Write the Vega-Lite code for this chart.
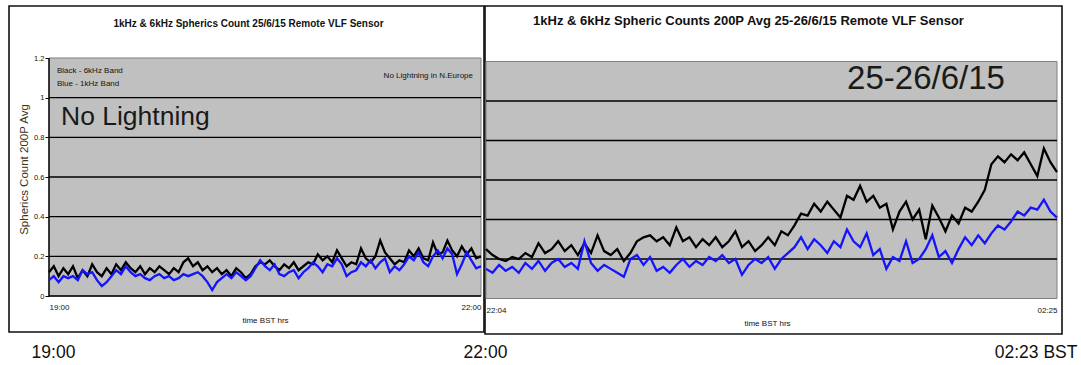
{
  "$schema": "https://vega.github.io/schema/vega-lite/v6.json",
  "padding": {"left": 8, "top": 5, "right": 0, "bottom": 0},
  "background": "white",
  "bounds": "flush",
  "spacing": 1,
  "config": {"font": "Liberation Sans", "text": {"font": "Liberation Sans"}},
  "datasets": {
    "left": [
      {"t":"2015-06-25T19:00","k":0.12,"b":0.08},{"t":"2015-06-25T19:02","k":0.15,"b":0.10},{"t":"2015-06-25T19:04","k":0.10,"b":0.07},{"t":"2015-06-25T19:06","k":0.14,"b":0.10},{"t":"2015-06-25T19:08","k":0.11,"b":0.09},{"t":"2015-06-25T19:10","k":0.15,"b":0.10},{"t":"2015-06-25T19:12","k":0.09,"b":0.08},{"t":"2015-06-25T19:14","k":0.13,"b":0.13},{"t":"2015-06-25T19:16","k":0.10,"b":0.11},{"t":"2015-06-25T19:18","k":0.16,"b":0.12},
      {"t":"2015-06-25T19:20","k":0.12,"b":0.08},{"t":"2015-06-25T19:22","k":0.10,"b":0.05},{"t":"2015-06-25T19:24","k":0.14,"b":0.07},{"t":"2015-06-25T19:26","k":0.11,"b":0.10},{"t":"2015-06-25T19:28","k":0.16,"b":0.13},{"t":"2015-06-25T19:30","k":0.13,"b":0.11},{"t":"2015-06-25T19:32","k":0.17,"b":0.15},{"t":"2015-06-25T19:34","k":0.14,"b":0.12},{"t":"2015-06-25T19:36","k":0.12,"b":0.10},{"t":"2015-06-25T19:38","k":0.15,"b":0.11},
      {"t":"2015-06-25T19:40","k":0.11,"b":0.09},{"t":"2015-06-25T19:42","k":0.14,"b":0.08},{"t":"2015-06-25T19:44","k":0.12,"b":0.10},{"t":"2015-06-25T19:46","k":0.15,"b":0.11},{"t":"2015-06-25T19:48","k":0.13,"b":0.09},{"t":"2015-06-25T19:50","k":0.11,"b":0.10},{"t":"2015-06-25T19:52","k":0.14,"b":0.08},{"t":"2015-06-25T19:54","k":0.12,"b":0.09},{"t":"2015-06-25T19:56","k":0.17,"b":0.11},{"t":"2015-06-25T19:58","k":0.19,"b":0.10},
      {"t":"2015-06-25T20:00","k":0.15,"b":0.11},{"t":"2015-06-25T20:02","k":0.17,"b":0.12},{"t":"2015-06-25T20:04","k":0.13,"b":0.10},{"t":"2015-06-25T20:06","k":0.15,"b":0.07},{"t":"2015-06-25T20:08","k":0.12,"b":0.03},{"t":"2015-06-25T20:10","k":0.14,"b":0.07},{"t":"2015-06-25T20:12","k":0.11,"b":0.09},{"t":"2015-06-25T20:14","k":0.13,"b":0.11},{"t":"2015-06-25T20:16","k":0.10,"b":0.09},{"t":"2015-06-25T20:18","k":0.14,"b":0.12},
      {"t":"2015-06-25T20:20","k":0.12,"b":0.10},{"t":"2015-06-25T20:22","k":0.09,"b":0.08},{"t":"2015-06-25T20:24","k":0.11,"b":0.10},{"t":"2015-06-25T20:26","k":0.15,"b":0.14},{"t":"2015-06-25T20:28","k":0.17,"b":0.18},{"t":"2015-06-25T20:30","k":0.16,"b":0.15},{"t":"2015-06-25T20:32","k":0.18,"b":0.13},{"t":"2015-06-25T20:34","k":0.15,"b":0.16},{"t":"2015-06-25T20:36","k":0.13,"b":0.11},{"t":"2015-06-25T20:38","k":0.16,"b":0.10},
      {"t":"2015-06-25T20:40","k":0.14,"b":0.12},{"t":"2015-06-25T20:42","k":0.17,"b":0.13},{"t":"2015-06-25T20:44","k":0.13,"b":0.09},{"t":"2015-06-25T20:46","k":0.15,"b":0.12},{"t":"2015-06-25T20:48","k":0.17,"b":0.14},{"t":"2015-06-25T20:50","k":0.16,"b":0.17},{"t":"2015-06-25T20:52","k":0.21,"b":0.15},{"t":"2015-06-25T20:54","k":0.18,"b":0.12},{"t":"2015-06-25T20:56","k":0.20,"b":0.16},{"t":"2015-06-25T20:58","k":0.17,"b":0.15},
      {"t":"2015-06-25T21:00","k":0.23,"b":0.19},{"t":"2015-06-25T21:02","k":0.19,"b":0.16},{"t":"2015-06-25T21:04","k":0.15,"b":0.10},{"t":"2015-06-25T21:06","k":0.17,"b":0.12},{"t":"2015-06-25T21:08","k":0.16,"b":0.13},{"t":"2015-06-25T21:10","k":0.24,"b":0.17},{"t":"2015-06-25T21:12","k":0.19,"b":0.15},{"t":"2015-06-25T21:14","k":0.17,"b":0.18},{"t":"2015-06-25T21:16","k":0.20,"b":0.14},{"t":"2015-06-25T21:18","k":0.28,"b":0.17},
      {"t":"2015-06-25T21:20","k":0.22,"b":0.19},{"t":"2015-06-25T21:22","k":0.19,"b":0.12},{"t":"2015-06-25T21:24","k":0.16,"b":0.15},{"t":"2015-06-25T21:26","k":0.18,"b":0.13},{"t":"2015-06-25T21:28","k":0.17,"b":0.16},{"t":"2015-06-25T21:30","k":0.23,"b":0.20},{"t":"2015-06-25T21:32","k":0.20,"b":0.18},{"t":"2015-06-25T21:34","k":0.24,"b":0.22},{"t":"2015-06-25T21:36","k":0.19,"b":0.17},{"t":"2015-06-25T21:38","k":0.18,"b":0.15},
      {"t":"2015-06-25T21:40","k":0.27,"b":0.20},{"t":"2015-06-25T21:42","k":0.21,"b":0.23},{"t":"2015-06-25T21:44","k":0.22,"b":0.19},{"t":"2015-06-25T21:46","k":0.28,"b":0.24},{"t":"2015-06-25T21:48","k":0.23,"b":0.21},{"t":"2015-06-25T21:50","k":0.20,"b":0.11},{"t":"2015-06-25T21:52","k":0.25,"b":0.16},{"t":"2015-06-25T21:54","k":0.21,"b":0.22},{"t":"2015-06-25T21:56","k":0.24,"b":0.18},{"t":"2015-06-25T21:58","k":0.19,"b":0.14},
      {"t":"2015-06-25T22:00","k":0.20,"b":0.15}
    ],
    "right": [
      {"t":"2015-06-25T22:04","k":0.25,"b":0.15},{"t":"2015-06-25T22:07","k":0.22,"b":0.13},{"t":"2015-06-25T22:10","k":0.20,"b":0.17},{"t":"2015-06-25T22:13","k":0.19,"b":0.14},{"t":"2015-06-25T22:16","k":0.21,"b":0.16},{"t":"2015-06-25T22:19","k":0.20,"b":0.13},{"t":"2015-06-25T22:22","k":0.23,"b":0.18},{"t":"2015-06-25T22:25","k":0.21,"b":0.15},{"t":"2015-06-25T22:28","k":0.28,"b":0.19},{"t":"2015-06-25T22:31","k":0.23,"b":0.14},
      {"t":"2015-06-25T22:34","k":0.25,"b":0.18},{"t":"2015-06-25T22:37","k":0.29,"b":0.20},{"t":"2015-06-25T22:40","k":0.24,"b":0.16},{"t":"2015-06-25T22:43","k":0.27,"b":0.18},{"t":"2015-06-25T22:46","k":0.22,"b":0.15},{"t":"2015-06-25T22:49","k":0.28,"b":0.29},{"t":"2015-06-25T22:52","k":0.23,"b":0.18},{"t":"2015-06-25T22:55","k":0.32,"b":0.14},{"t":"2015-06-25T22:58","k":0.24,"b":0.17},{"t":"2015-06-25T23:01","k":0.22,"b":0.15},
      {"t":"2015-06-25T23:04","k":0.25,"b":0.13},{"t":"2015-06-25T23:07","k":0.19,"b":0.11},{"t":"2015-06-25T23:10","k":0.23,"b":0.20},{"t":"2015-06-25T23:13","k":0.29,"b":0.22},{"t":"2015-06-25T23:16","k":0.31,"b":0.17},{"t":"2015-06-25T23:19","k":0.32,"b":0.21},{"t":"2015-06-25T23:22","k":0.29,"b":0.14},{"t":"2015-06-25T23:25","k":0.31,"b":0.16},{"t":"2015-06-25T23:28","k":0.27,"b":0.13},{"t":"2015-06-25T23:31","k":0.36,"b":0.17},
      {"t":"2015-06-25T23:34","k":0.29,"b":0.20},{"t":"2015-06-25T23:37","k":0.31,"b":0.16},{"t":"2015-06-25T23:40","k":0.26,"b":0.19},{"t":"2015-06-25T23:43","k":0.30,"b":0.17},{"t":"2015-06-25T23:46","k":0.27,"b":0.21},{"t":"2015-06-25T23:49","k":0.31,"b":0.19},{"t":"2015-06-25T23:52","k":0.26,"b":0.22},{"t":"2015-06-25T23:55","k":0.29,"b":0.18},{"t":"2015-06-25T23:58","k":0.34,"b":0.20},{"t":"2015-06-26T00:01","k":0.26,"b":0.12},
      {"t":"2015-06-26T00:04","k":0.29,"b":0.17},{"t":"2015-06-26T00:07","k":0.24,"b":0.20},{"t":"2015-06-26T00:10","k":0.27,"b":0.18},{"t":"2015-06-26T00:13","k":0.31,"b":0.21},{"t":"2015-06-26T00:16","k":0.27,"b":0.15},{"t":"2015-06-26T00:19","k":0.34,"b":0.20},{"t":"2015-06-26T00:22","k":0.32,"b":0.23},{"t":"2015-06-26T00:25","k":0.37,"b":0.26},{"t":"2015-06-26T00:28","k":0.43,"b":0.31},{"t":"2015-06-26T00:31","k":0.42,"b":0.25},
      {"t":"2015-06-26T00:34","k":0.48,"b":0.30},{"t":"2015-06-26T00:37","k":0.44,"b":0.27},{"t":"2015-06-26T00:40","k":0.49,"b":0.23},{"t":"2015-06-26T00:43","k":0.45,"b":0.29},{"t":"2015-06-26T00:46","k":0.41,"b":0.26},{"t":"2015-06-26T00:49","k":0.52,"b":0.35},{"t":"2015-06-26T00:52","k":0.50,"b":0.29},{"t":"2015-06-26T00:55","k":0.57,"b":0.26},{"t":"2015-06-26T00:58","k":0.49,"b":0.33},{"t":"2015-06-26T01:01","k":0.52,"b":0.22},
      {"t":"2015-06-26T01:04","k":0.46,"b":0.25},{"t":"2015-06-26T01:07","k":0.48,"b":0.15},{"t":"2015-06-26T01:10","k":0.35,"b":0.21},{"t":"2015-06-26T01:13","k":0.44,"b":0.19},{"t":"2015-06-26T01:16","k":0.49,"b":0.29},{"t":"2015-06-26T01:19","k":0.40,"b":0.18},{"t":"2015-06-26T01:22","k":0.45,"b":0.20},{"t":"2015-06-26T01:25","k":0.30,"b":0.25},{"t":"2015-06-26T01:28","k":0.47,"b":0.32},{"t":"2015-06-26T01:31","k":0.41,"b":0.21},
      {"t":"2015-06-26T01:34","k":0.34,"b":0.24},{"t":"2015-06-26T01:37","k":0.42,"b":0.18},{"t":"2015-06-26T01:40","k":0.38,"b":0.25},{"t":"2015-06-26T01:43","k":0.46,"b":0.31},{"t":"2015-06-26T01:46","k":0.44,"b":0.27},{"t":"2015-06-26T01:49","k":0.49,"b":0.32},{"t":"2015-06-26T01:52","k":0.55,"b":0.28},{"t":"2015-06-26T01:55","k":0.68,"b":0.33},{"t":"2015-06-26T01:58","k":0.72,"b":0.37},{"t":"2015-06-26T02:01","k":0.69,"b":0.35},
      {"t":"2015-06-26T02:04","k":0.73,"b":0.39},{"t":"2015-06-26T02:07","k":0.70,"b":0.44},{"t":"2015-06-26T02:10","k":0.74,"b":0.42},{"t":"2015-06-26T02:13","k":0.68,"b":0.46},{"t":"2015-06-26T02:16","k":0.62,"b":0.45},{"t":"2015-06-26T02:19","k":0.76,"b":0.50},{"t":"2015-06-26T02:22","k":0.69,"b":0.44},{"t":"2015-06-26T02:25","k":0.64,"b":0.41}
    ]
  },
  "hconcat": [
    {
      "width": 475,
      "height": 326,
      "view": {"fill": "white", "stroke": "#111", "strokeWidth": 1.6},
      "title": {"text": "1kHz & 6kHz Spherics Count 25/6/15 Remote VLF Sensor", "fontSize": 10, "fontWeight": "bold", "anchor": "middle", "baseline": "alphabetic", "offset": -31, "dx": 2, "color": "#111", "font": "Liberation Sans"},
      "resolve": {"axis": {"x": "independent", "y": "independent"}},
      "layer": [
        {
          "data": {"values": [{}]},
          "mark": {"type": "rect", "fill": "#c0c0c0", "stroke": "#808080", "strokeWidth": 1},
          "encoding": {
            "x": {"datum": {"year":2015,"month":"jun","date":25,"hours":19}, "type": "temporal", "scale": {"domain":[{"year":2015,"month":"jun","date":25,"hours":18,"minutes":43,"seconds":20},{"year":2015,"month":"jun","date":25,"hours":22,"minutes":1,"seconds":15}],"nice":false}, "axis": null},
            "x2": {"datum": {"year":2015,"month":"jun","date":25,"hours":22}},
            "y": {"datum": 0, "type": "quantitative", "scale": {"domain":[-0.1815,1.4622],"nice":false,"zero":false},
                  "axis": {"orient": "left", "offset": -40, "values": [0,0.2,0.4,0.6,0.8,1,1.2], "format": ".1~f", "domain": false, "grid": false, "ticks": true, "tickSize": 4, "tickColor": "#000", "tickWidth": 1, "labelFontSize": 7.5, "labelColor": "#111", "labelPadding": 1, "labelFont": "Liberation Sans", "title": "Spherics Count 200P Avg", "titleFont": "Liberation Sans", "titleFontSize": 11.5, "titleFontWeight": "normal", "titleColor": "#3a3418", "titlePadding": 4}},
            "y2": {"datum": 1.2}
          }
        },
        {
          "data": {"values": [{"g":0},{"g":0.2},{"g":0.4},{"g":0.6},{"g":0.8},{"g":1}]},
          "mark": {"type": "rule", "color": "#000", "strokeWidth": 1.4},
          "encoding": {
            "x": {"datum": {"year":2015,"month":"jun","date":25,"hours":19}, "type": "temporal", "scale": {"domain":[{"year":2015,"month":"jun","date":25,"hours":18,"minutes":43,"seconds":20},{"year":2015,"month":"jun","date":25,"hours":22,"minutes":1,"seconds":15}],"nice":false}, "axis": null},
            "x2": {"datum": {"year":2015,"month":"jun","date":25,"hours":22}},
            "y": {"field": "g", "type": "quantitative", "scale": {"domain":[-0.1815,1.4622],"nice":false,"zero":false}, "axis": null}
          }
        },
        {
          "data": {"values": [{}]},
          "mark": {"type": "rule", "color": "#000", "strokeWidth": 1.4},
          "encoding": {
            "x": {"datum": {"year":2015,"month":"jun","date":25,"hours":19}, "type": "temporal", "scale": {"domain":[{"year":2015,"month":"jun","date":25,"hours":18,"minutes":43,"seconds":20},{"year":2015,"month":"jun","date":25,"hours":22,"minutes":1,"seconds":15}],"nice":false}, "axis": null},
            "y": {"datum": 0, "type": "quantitative", "scale": {"domain":[-0.1815,1.4622],"nice":false,"zero":false}, "axis": null},
            "y2": {"datum": 1.2}
          }
        },
        {
          "data": {"name": "left"},
          "mark": {"type": "line", "color": "#000", "strokeWidth": 2.3},
          "encoding": {
            "x": {"field": "t", "type": "temporal", "scale": {"domain":[{"year":2015,"month":"jun","date":25,"hours":18,"minutes":43,"seconds":20},{"year":2015,"month":"jun","date":25,"hours":22,"minutes":1,"seconds":15}],"nice":false},
                  "axis": {"orient": "bottom", "offset": -36, "values": [{"year":2015,"month":"jun","date":25,"hours":19},{"year":2015,"month":"jun","date":25,"hours":22}], "format": "%H:%M", "labelFlush": 45, "labelFontSize": 8, "labelColor": "#111", "labelPadding": 7, "labelFont": "Liberation Sans", "domain": false, "ticks": false, "tickSize": 0, "grid": false, "title": "time BST hrs", "titleFont": "Liberation Sans", "titleFontSize": 8, "titleFontWeight": "normal", "titleColor": "#111", "titlePadding": 5, "titleX": 256}},
            "y": {"field": "k", "type": "quantitative", "scale": {"domain":[-0.1815,1.4622],"nice":false,"zero":false}, "axis": null}
          }
        },
        {
          "data": {"name": "left"},
          "mark": {"type": "line", "color": "#1414ff", "strokeWidth": 2.3},
          "encoding": {
            "x": {"field": "t", "type": "temporal", "scale": {"domain":[{"year":2015,"month":"jun","date":25,"hours":18,"minutes":43,"seconds":20},{"year":2015,"month":"jun","date":25,"hours":22,"minutes":1,"seconds":15}],"nice":false},
                  "axis": {"orient": "bottom", "offset": 0, "values": [{"year":2015,"month":"jun","date":25,"hours":19},{"year":2015,"month":"jun","date":25,"hours":22}], "format": "%H:%M", "labelFlush": false, "labelOffset": 4, "labelFontSize": 17.5, "labelColor": "#111", "labelPadding": 11, "labelFont": "Liberation Sans", "domain": false, "ticks": false, "tickSize": 0, "grid": false, "title": null}},
            "y": {"field": "b", "type": "quantitative", "scale": {"domain":[-0.1815,1.4622],"nice":false,"zero":false}, "axis": null}
          }
        },
        {
          "data": {"values": [{}]},
          "mark": {"type": "text", "text": "Black - 6kHz Band", "align": "left", "baseline": "middle", "fontSize": 8, "color": "#111"},
          "encoding": {
            "x": {"datum": {"year":2015,"month":"jun","date":25,"hours":19,"minutes":3,"seconds":20}, "type": "temporal", "scale": {"domain":[{"year":2015,"month":"jun","date":25,"hours":18,"minutes":43,"seconds":20},{"year":2015,"month":"jun","date":25,"hours":22,"minutes":1,"seconds":15}],"nice":false}, "axis": null},
            "y": {"datum": 1.135, "type": "quantitative", "scale": {"domain":[-0.1815,1.4622],"nice":false,"zero":false}, "axis": null}
          }
        },
        {
          "data": {"values": [{}]},
          "mark": {"type": "text", "text": "Blue - 1kHz Band", "align": "left", "baseline": "middle", "fontSize": 8, "color": "#111"},
          "encoding": {
            "x": {"datum": {"year":2015,"month":"jun","date":25,"hours":19,"minutes":3,"seconds":20}, "type": "temporal", "scale": {"domain":[{"year":2015,"month":"jun","date":25,"hours":18,"minutes":43,"seconds":20},{"year":2015,"month":"jun","date":25,"hours":22,"minutes":1,"seconds":15}],"nice":false}, "axis": null},
            "y": {"datum": 1.069, "type": "quantitative", "scale": {"domain":[-0.1815,1.4622],"nice":false,"zero":false}, "axis": null}
          }
        },
        {
          "data": {"values": [{}]},
          "mark": {"type": "text", "text": "No Lightning in N.Europe", "align": "right", "baseline": "middle", "fontSize": 8, "color": "#111"},
          "encoding": {
            "x": {"datum": {"year":2015,"month":"jun","date":25,"hours":21,"minutes":56,"seconds":40}, "type": "temporal", "scale": {"domain":[{"year":2015,"month":"jun","date":25,"hours":18,"minutes":43,"seconds":20},{"year":2015,"month":"jun","date":25,"hours":22,"minutes":1,"seconds":15}],"nice":false}, "axis": null},
            "y": {"datum": 1.109, "type": "quantitative", "scale": {"domain":[-0.1815,1.4622],"nice":false,"zero":false}, "axis": null}
          }
        },
        {
          "data": {"values": [{}]},
          "mark": {"type": "text", "text": "No Lightning", "align": "left", "baseline": "alphabetic", "fontSize": 26.5, "color": "#1a1a1a"},
          "encoding": {
            "x": {"datum": {"year":2015,"month":"jun","date":25,"hours":19,"minutes":5}, "type": "temporal", "scale": {"domain":[{"year":2015,"month":"jun","date":25,"hours":18,"minutes":43,"seconds":20},{"year":2015,"month":"jun","date":25,"hours":22,"minutes":1,"seconds":15}],"nice":false}, "axis": null},
            "y": {"datum": 0.862, "type": "quantitative", "scale": {"domain":[-0.1815,1.4622],"nice":false,"zero":false}, "axis": null}
          }
        }
      ]
    },
    {
      "width": 577,
      "height": 328,
      "view": {"fill": "white", "stroke": "#111", "strokeWidth": 1.6},
      "title": {"text": "1kHz & 6kHz  Spheric Counts 200P Avg 25-26/6/15 Remote VLF Sensor", "fontSize": 13, "fontWeight": "bold", "anchor": "middle", "baseline": "alphabetic", "offset": -32, "dx": -25, "color": "#111", "font": "Liberation Sans"},
      "resolve": {"axis": {"x": "independent", "y": "independent"}},
      "layer": [
        {
          "data": {"values": [{}]},
          "mark": {"type": "rect", "fill": "#c0c0c0", "stroke": "#808080", "strokeWidth": 1},
          "encoding": {
            "x": {"datum": {"year":2015,"month":"jun","date":25,"hours":22,"minutes":4}, "type": "temporal", "scale": {"domain":[{"year":2015,"month":"jun","date":25,"hours":22,"minutes":3,"seconds":33},{"year":2015,"month":"jun","date":26,"hours":2,"minutes":27,"seconds":17}],"nice":false}, "axis": null},
            "x2": {"datum": {"year":2015,"month":"jun","date":26,"hours":2,"minutes":25}},
            "y": {"datum": 0, "type": "quantitative", "scale": {"domain":[-0.1797,1.481],"nice":false,"zero":false}, "axis": null},
            "y2": {"datum": 1.2}
          }
        },
        {
          "data": {"values": [{"g":0.2},{"g":0.4},{"g":0.6},{"g":0.8},{"g":1}]},
          "mark": {"type": "rule", "color": "#000", "strokeWidth": 1.4},
          "encoding": {
            "x": {"datum": {"year":2015,"month":"jun","date":25,"hours":22,"minutes":4}, "type": "temporal", "scale": {"domain":[{"year":2015,"month":"jun","date":25,"hours":22,"minutes":3,"seconds":33},{"year":2015,"month":"jun","date":26,"hours":2,"minutes":27,"seconds":17}],"nice":false}, "axis": null},
            "x2": {"datum": {"year":2015,"month":"jun","date":26,"hours":2,"minutes":25}},
            "y": {"field": "g", "type": "quantitative", "scale": {"domain":[-0.1797,1.481],"nice":false,"zero":false}, "axis": null}
          }
        },
        {
          "data": {"name": "right"},
          "mark": {"type": "line", "color": "#000", "strokeWidth": 2.3},
          "encoding": {
            "x": {"field": "t", "type": "temporal", "scale": {"domain":[{"year":2015,"month":"jun","date":25,"hours":22,"minutes":3,"seconds":33},{"year":2015,"month":"jun","date":26,"hours":2,"minutes":27,"seconds":17}],"nice":false},
                  "axis": {"orient": "bottom", "offset": -35.5, "values": [{"year":2015,"month":"jun","date":25,"hours":22,"minutes":4},{"year":2015,"month":"jun","date":26,"hours":2,"minutes":25}], "format": "%H:%M", "labelFlush": 10, "labelFontSize": 8, "labelColor": "#111", "labelPadding": 8, "labelFont": "Liberation Sans", "domain": false, "ticks": false, "tickSize": 0, "grid": false, "title": "time BST hrs", "titleFont": "Liberation Sans", "titleFontSize": 8, "titleFontWeight": "normal", "titleColor": "#111", "titlePadding": 5, "titleX": 282}},
            "y": {"field": "k", "type": "quantitative", "scale": {"domain":[-0.1797,1.481],"nice":false,"zero":false}, "axis": null}
          }
        },
        {
          "data": {"name": "right"},
          "mark": {"type": "line", "color": "#1414ff", "strokeWidth": 2.3},
          "encoding": {
            "x": {"field": "t", "type": "temporal", "scale": {"domain":[{"year":2015,"month":"jun","date":25,"hours":22,"minutes":3,"seconds":33},{"year":2015,"month":"jun","date":26,"hours":2,"minutes":27,"seconds":17}],"nice":false},
                  "axis": {"orient": "bottom", "offset": 0, "values": [{"year":2015,"month":"jun","date":26,"hours":2,"minutes":23}], "format": "%H:%M BST", "labelFlush": false, "labelOffset": -17, "labelFontSize": 17.5, "labelColor": "#111", "labelPadding": 9, "labelFont": "Liberation Sans", "domain": false, "ticks": false, "tickSize": 0, "grid": false, "title": null}},
            "y": {"field": "b", "type": "quantitative", "scale": {"domain":[-0.1797,1.481],"nice":false,"zero":false}, "axis": null}
          }
        },
        {
          "data": {"values": [{}]},
          "mark": {"type": "text", "text": "25-26/6/15", "align": "right", "baseline": "alphabetic", "fontSize": 33, "color": "#1a1a1a"},
          "encoding": {
            "x": {"datum": {"year":2015,"month":"jun","date":26,"hours":2,"minutes":1,"seconds":12}, "type": "temporal", "scale": {"domain":[{"year":2015,"month":"jun","date":25,"hours":22,"minutes":3,"seconds":33},{"year":2015,"month":"jun","date":26,"hours":2,"minutes":27,"seconds":17}],"nice":false}, "axis": null},
            "y": {"datum": 1.06, "type": "quantitative", "scale": {"domain":[-0.1797,1.481],"nice":false,"zero":false}, "axis": null}
          }
        }
      ]
    }
  ]
}
